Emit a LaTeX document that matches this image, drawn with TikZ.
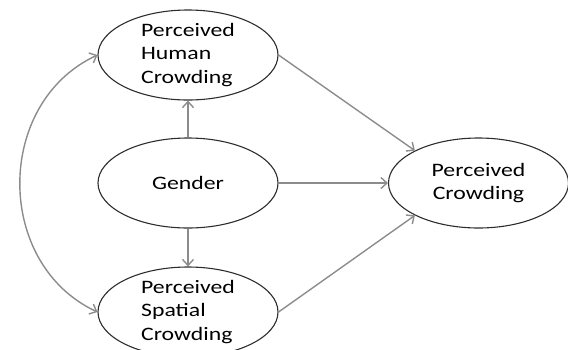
\documentclass[tikz,border=0pt]{standalone}
\usepackage{fontspec}
\setmainfont[FakeStretch=1.25]{Carlito}
\usetikzlibrary{shapes.geometric,arrows.meta}
\definecolor{linegray}{RGB}{140,140,140}
\definecolor{rimgray}{RGB}{45,45,45}
\begin{document}
\begin{tikzpicture}[x=1pt,y=-1pt,
	var/.style={draw=rimgray,line width=1.1pt,ellipse,inner sep=-4pt,minimum width=180pt,minimum height=90pt,align=left,text=black,font=\fontsize{19}{23.5}\selectfont},
	path/.style={draw=linegray,line width=1.4pt,-{Straight Barb[length=6pt,width=11pt]}}]
	\useasboundingbox (0,0) rectangle (568,349);
	\node[var] (hum) at (188,55) {Perceived\\Human\\Crowding};
	\node[var] (gen) at (188,183) {Gender};
	\node[var] (spa) at (188,312) {Perceived\\Spatial\\Crowding};
	\node[var,align=center] (per) at (478.5,183) {Perceived\\Crowding};
	\draw[path] (gen) -- (hum);
	\draw[path] (gen) -- (spa);
	\draw[path] (gen) -- (per);
	\draw[path] (hum.east) -- (per.153);
	\draw[path] (spa.east) -- (per.207);
	\draw[path,{Straight Barb[length=6pt,width=11pt]}-{Straight Barb[length=6pt,width=11pt]}] (hum.west) .. controls +(-103,48) and +(-103,-48) .. (spa.west);
\end{tikzpicture}
\end{document}
